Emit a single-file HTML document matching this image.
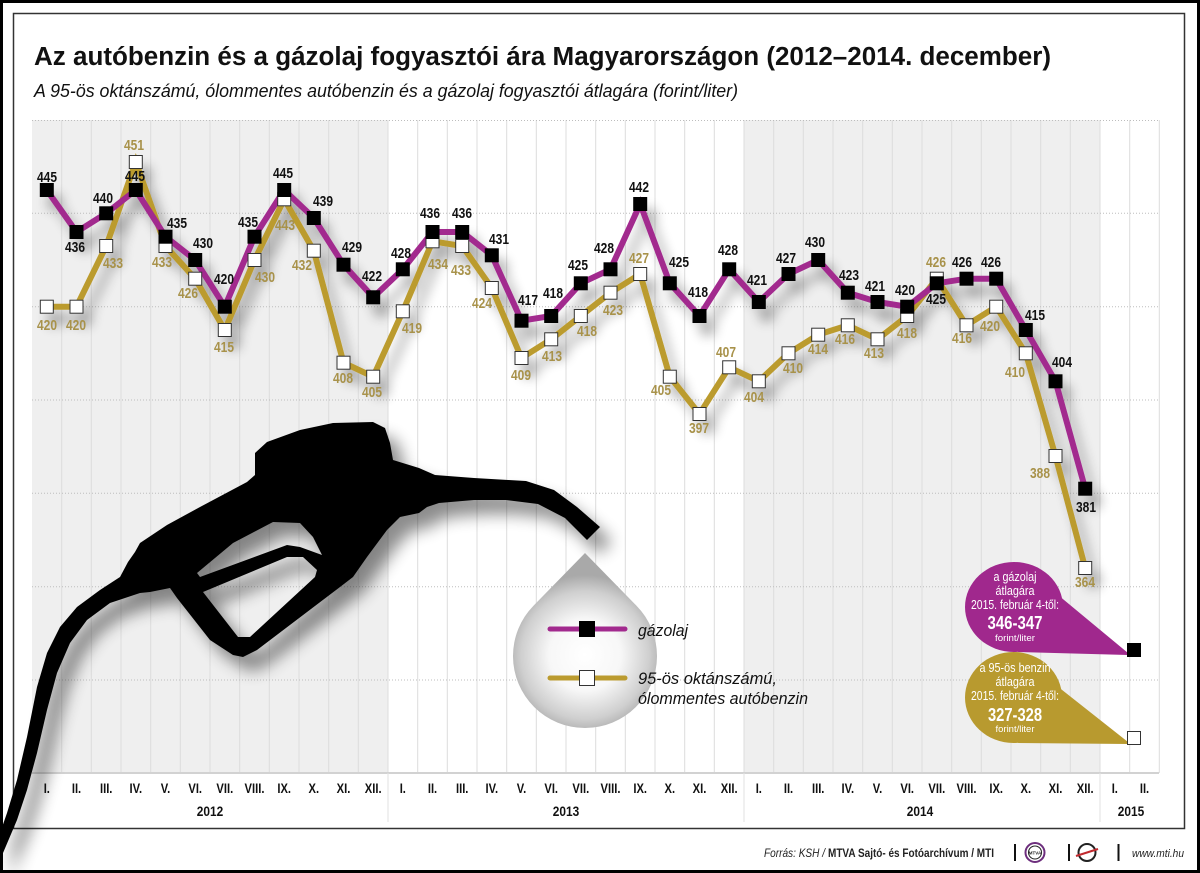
<!DOCTYPE html>
<html><head><meta charset="utf-8"><style>
html,body{margin:0;padding:0;background:#fff}
body{width:1200px;height:873px;overflow:hidden}
svg{display:block}
</style></head><body>
<svg width="1200" height="873" viewBox="0 0 1200 873" xmlns="http://www.w3.org/2000/svg" font-family="'Liberation Sans', sans-serif">
<defs>
<filter id="sh" x="-10%" y="-20%" width="130%" height="160%">
<feGaussianBlur in="SourceAlpha" stdDeviation="6"/>
<feOffset dx="8" dy="12"/>
<feComponentTransfer><feFuncA type="linear" slope="0.33"/></feComponentTransfer>
<feMerge><feMergeNode/><feMergeNode in="SourceGraphic"/></feMerge>
</filter>
<filter id="sh2" x="-20%" y="-20%" width="150%" height="150%">
<feGaussianBlur in="SourceAlpha" stdDeviation="8"/>
<feOffset dx="12" dy="14"/>
<feComponentTransfer><feFuncA type="linear" slope="0.45"/></feComponentTransfer>
<feMerge><feMergeNode/><feMergeNode in="SourceGraphic"/></feMerge>
</filter>
<radialGradient id="dropg" cx="585" cy="655" r="80" gradientUnits="userSpaceOnUse">
<stop offset="0" stop-color="#ffffff"/>
<stop offset="0.45" stop-color="#f7f7f7"/>
<stop offset="0.8" stop-color="#cfcfcf"/>
<stop offset="1" stop-color="#a9a9a9"/>
</radialGradient>
</defs>
<rect x="0" y="0" width="1200" height="873" fill="#fff"/>
<!-- chart background -->
<rect x="32" y="120" width="356" height="653" fill="#efefef"/>
<rect x="744" y="120" width="356" height="653" fill="#efefef"/>
<path stroke="#dcdcdc" stroke-width="1" fill="none" d="M61.7,120V773M91.3,120V773M121,120V773M150.7,120V773M180.3,120V773M210,120V773M239.7,120V773M269.3,120V773M299,120V773M328.7,120V773M358.3,120V773M388,120V773M417.7,120V773M447.3,120V773M477,120V773M506.7,120V773M536.3,120V773M566,120V773M595.7,120V773M625.3,120V773M655,120V773M684.7,120V773M714.3,120V773M744,120V773M773.7,120V773M803.3,120V773M833,120V773M862.7,120V773M892.3,120V773M922,120V773M951.7,120V773M981.3,120V773M1011,120V773M1040.7,120V773M1070.3,120V773M1100,120V773M1129.7,120V773M1159.3,120V773"/>
<path stroke="#bdbdbd" stroke-width="1" stroke-dasharray="1 2" fill="none" d="M32,120.5H1159M32,213.3H1159M32,306.7H1159M32,400H1159M32,493.3H1159M32,586.7H1159M32,680H1159"/>
<path stroke="#d2d2d2" stroke-width="2" d="M32,773H1159"/>
<path stroke="#e2e2e2" stroke-width="1" d="M388,773V822M744,773V822M1100,773V822"/>

<!-- frames -->
<rect x="13.5" y="13.5" width="1171" height="815" fill="none" stroke="#333" stroke-width="1.5"/>
<rect x="1.5" y="1.5" width="1197" height="870" fill="none" stroke="#000" stroke-width="3"/>

<!-- title -->
<text x="34" y="65" font-size="25.5" font-weight="bold" fill="#111" textLength="1017" lengthAdjust="spacingAndGlyphs">Az autóbenzin és a gázolaj fogyasztói ára Magyarországon (2012–2014. december)</text>
<text x="34" y="97" font-size="18.3" font-style="italic" fill="#111" textLength="704" lengthAdjust="spacingAndGlyphs">A 95-ös oktánszámú, ólommentes autóbenzin és a gázolaj fogyasztói átlagára (forint/liter)</text>

<!-- nozzle -->
<g filter="url(#sh2)">
<path fill="#000" fill-rule="evenodd" d="M0,873 L0,833 L7,813 L17,780 L27,737 L37,687 L47,653 L60,627 L77,607 L100,590 L120,577 L128,562 L135,552 L140,543 L167,525 L200,507 L247,482 L255,475 L255,453 L267,442 L300,430 L333,423 L373,422 L385,428 L390,443 L393,460 L419,468 L435,475 L474,478 L526,481 L554,490 L577,507 L600,527 L587,540 L565,518 L538,504 L506,500 L474,500 L439,503 L427,507 L419,513 L400,517 L387,530 L367,557 L353,577 L340,587 L257,650 L243,657 L233,655 L210,640 L177,598 L170,588 L150,592 L140,593 L110,603 L87,620 L70,643 L57,673 L47,710 L37,753 L27,790 L17,820 L3,853 L0,873 Z M197,573 L233,543 L273,522 L300,523 L313,537 L322,555 L300,547 L287,545 L200,577 Z M203,592 L287,557 L303,557 L317,570 L315,577 L250,637 L238,637 Z"/>
</g>

<!-- legend drop -->
<path d="M585,553 L636.4,605.6 A72,72 0 1 1 533.6,605.6 Z" fill="url(#dropg)"/>
<path d="M550,629H625" stroke="#a22a8e" stroke-width="5" stroke-linecap="round"/>
<rect x="579" y="621" width="16" height="16" fill="#000"/>
<path d="M550,678H625" stroke="#bb9b2f" stroke-width="5" stroke-linecap="round"/>
<rect x="579.5" y="670.5" width="15" height="15" fill="#fff" stroke="#333" stroke-width="1"/>
<text x="638" y="636" font-size="17" font-style="italic" fill="#111" textLength="50" lengthAdjust="spacingAndGlyphs">gázolaj</text>
<text x="638" y="684" font-size="17" font-style="italic" fill="#111" textLength="139" lengthAdjust="spacingAndGlyphs">95-ös oktánszámú,</text>
<text x="638" y="704" font-size="17" font-style="italic" fill="#111" textLength="170" lengthAdjust="spacingAndGlyphs">ólommentes autóbenzin</text>

<!-- series -->
<g filter="url(#sh)">
<polyline fill="none" stroke="#bb9b2f" stroke-width="6" stroke-linejoin="miter" points="46.8,306.7 76.5,306.7 106.2,246 135.8,162 165.5,246 195.2,278.7 224.8,330 254.5,260 284.2,199.3 313.8,250.7 343.5,362.7 373.2,376.7 402.8,311.3 432.5,241.3 462.2,246 491.8,288 521.5,358 551.2,339.3 580.8,316 610.5,292.7 640.2,274 669.8,376.7 699.5,414 729.2,367.3 758.8,381.3 788.5,353.3 818.2,334.7 847.8,325.3 877.5,339.3 907.2,316 936.8,278.7 966.5,325.3 996.2,306.7 1025.8,353.3 1055.5,456 1085.2,568"/>
<polyline fill="none" stroke="#a22a8e" stroke-width="6" stroke-linejoin="miter" points="46.8,190 76.5,232 106.2,213.3 135.8,190 165.5,236.7 195.2,260 224.8,306.7 254.5,236.7 284.2,190 313.8,218 343.5,264.7 373.2,297.3 402.8,269.3 432.5,232 462.2,232 491.8,255.3 521.5,320.7 551.2,316 580.8,283.3 610.5,269.3 640.2,204 669.8,283.3 699.5,316 729.2,269.3 758.8,302 788.5,274 818.2,260 847.8,292.7 877.5,302 907.2,306.7 936.8,283.3 966.5,278.7 996.2,278.7 1025.8,330 1055.5,381.3 1085.2,488.7"/>
<g fill="#fff" stroke="#333" stroke-width="1">
<rect x="40.3" y="300.2" width="13" height="13"/><rect x="70" y="300.2" width="13" height="13"/><rect x="99.7" y="239.5" width="13" height="13"/><rect x="129.3" y="155.5" width="13" height="13"/><rect x="159" y="239.5" width="13" height="13"/><rect x="188.7" y="272.2" width="13" height="13"/><rect x="218.3" y="323.5" width="13" height="13"/><rect x="248" y="253.5" width="13" height="13"/><rect x="277.7" y="192.8" width="13" height="13"/><rect x="307.3" y="244.2" width="13" height="13"/><rect x="337" y="356.2" width="13" height="13"/><rect x="366.7" y="370.2" width="13" height="13"/>
<rect x="396.3" y="304.8" width="13" height="13"/><rect x="426" y="234.8" width="13" height="13"/><rect x="455.7" y="239.5" width="13" height="13"/><rect x="485.3" y="281.5" width="13" height="13"/><rect x="515" y="351.5" width="13" height="13"/><rect x="544.7" y="332.8" width="13" height="13"/><rect x="574.3" y="309.5" width="13" height="13"/><rect x="604" y="286.2" width="13" height="13"/><rect x="633.7" y="267.5" width="13" height="13"/><rect x="663.3" y="370.2" width="13" height="13"/><rect x="693" y="407.5" width="13" height="13"/><rect x="722.7" y="360.8" width="13" height="13"/>
<rect x="752.3" y="374.8" width="13" height="13"/><rect x="782" y="346.8" width="13" height="13"/><rect x="811.7" y="328.2" width="13" height="13"/><rect x="841.3" y="318.8" width="13" height="13"/><rect x="871" y="332.8" width="13" height="13"/><rect x="900.7" y="309.5" width="13" height="13"/><rect x="930.3" y="272.2" width="13" height="13"/><rect x="960" y="318.8" width="13" height="13"/><rect x="989.7" y="300.2" width="13" height="13"/><rect x="1019.3" y="346.8" width="13" height="13"/><rect x="1049" y="449.5" width="13" height="13"/><rect x="1078.7" y="561.5" width="13" height="13"/>
</g>
<g fill="#000">
<rect x="39.8" y="183" width="14" height="14"/><rect x="69.5" y="225" width="14" height="14"/><rect x="99.2" y="206.3" width="14" height="14"/><rect x="128.8" y="183" width="14" height="14"/><rect x="158.5" y="229.7" width="14" height="14"/><rect x="188.2" y="253" width="14" height="14"/><rect x="217.8" y="299.7" width="14" height="14"/><rect x="247.5" y="229.7" width="14" height="14"/><rect x="277.2" y="183" width="14" height="14"/><rect x="306.8" y="211" width="14" height="14"/><rect x="336.5" y="257.7" width="14" height="14"/><rect x="366.2" y="290.3" width="14" height="14"/>
<rect x="395.8" y="262.3" width="14" height="14"/><rect x="425.5" y="225" width="14" height="14"/><rect x="455.2" y="225" width="14" height="14"/><rect x="484.8" y="248.3" width="14" height="14"/><rect x="514.5" y="313.7" width="14" height="14"/><rect x="544.2" y="309" width="14" height="14"/><rect x="573.8" y="276.3" width="14" height="14"/><rect x="603.5" y="262.3" width="14" height="14"/><rect x="633.2" y="197" width="14" height="14"/><rect x="662.8" y="276.3" width="14" height="14"/><rect x="692.5" y="309" width="14" height="14"/><rect x="722.2" y="262.3" width="14" height="14"/>
<rect x="751.8" y="295" width="14" height="14"/><rect x="781.5" y="267" width="14" height="14"/><rect x="811.2" y="253" width="14" height="14"/><rect x="840.8" y="285.7" width="14" height="14"/><rect x="870.5" y="295" width="14" height="14"/><rect x="900.2" y="299.7" width="14" height="14"/><rect x="929.8" y="276.3" width="14" height="14"/><rect x="959.5" y="271.7" width="14" height="14"/><rect x="989.2" y="271.7" width="14" height="14"/><rect x="1018.8" y="323" width="14" height="14"/><rect x="1048.5" y="374.3" width="14" height="14"/><rect x="1078.2" y="481.7" width="14" height="14"/>
</g>
</g>

<!-- benzin labels -->
<g font-size="15" font-weight="bold" fill="#a8924a" text-anchor="middle">
<text x="47" y="330" textLength="20" lengthAdjust="spacingAndGlyphs">420</text>
<text x="76" y="330" textLength="20" lengthAdjust="spacingAndGlyphs">420</text>
<text x="113" y="268" textLength="20" lengthAdjust="spacingAndGlyphs">433</text>
<text x="134" y="150" textLength="20" lengthAdjust="spacingAndGlyphs">451</text>
<text x="162" y="267" textLength="20" lengthAdjust="spacingAndGlyphs">433</text>
<text x="188" y="298" textLength="20" lengthAdjust="spacingAndGlyphs">426</text>
<text x="224" y="352" textLength="20" lengthAdjust="spacingAndGlyphs">415</text>
<text x="265" y="282" textLength="20" lengthAdjust="spacingAndGlyphs">430</text>
<text x="285" y="230" textLength="20" lengthAdjust="spacingAndGlyphs">443</text>
<text x="302" y="270" textLength="20" lengthAdjust="spacingAndGlyphs">432</text>
<text x="343" y="383" textLength="20" lengthAdjust="spacingAndGlyphs">408</text>
<text x="372" y="397" textLength="20" lengthAdjust="spacingAndGlyphs">405</text>
<text x="412" y="333" textLength="20" lengthAdjust="spacingAndGlyphs">419</text>
<text x="438" y="269" textLength="20" lengthAdjust="spacingAndGlyphs">434</text>
<text x="461" y="275" textLength="20" lengthAdjust="spacingAndGlyphs">433</text>
<text x="482" y="308" textLength="20" lengthAdjust="spacingAndGlyphs">424</text>
<text x="521" y="380" textLength="20" lengthAdjust="spacingAndGlyphs">409</text>
<text x="552" y="361" textLength="20" lengthAdjust="spacingAndGlyphs">413</text>
<text x="587" y="336" textLength="20" lengthAdjust="spacingAndGlyphs">418</text>
<text x="613" y="315" textLength="20" lengthAdjust="spacingAndGlyphs">423</text>
<text x="639" y="263" textLength="20" lengthAdjust="spacingAndGlyphs">427</text>
<text x="661" y="395" textLength="20" lengthAdjust="spacingAndGlyphs">405</text>
<text x="699" y="433" textLength="20" lengthAdjust="spacingAndGlyphs">397</text>
<text x="726" y="357" textLength="20" lengthAdjust="spacingAndGlyphs">407</text>
<text x="754" y="402" textLength="20" lengthAdjust="spacingAndGlyphs">404</text>
<text x="793" y="373" textLength="20" lengthAdjust="spacingAndGlyphs">410</text>
<text x="818" y="354" textLength="20" lengthAdjust="spacingAndGlyphs">414</text>
<text x="845" y="344" textLength="20" lengthAdjust="spacingAndGlyphs">416</text>
<text x="874" y="358" textLength="20" lengthAdjust="spacingAndGlyphs">413</text>
<text x="907" y="338" textLength="20" lengthAdjust="spacingAndGlyphs">418</text>
<text x="936" y="267" textLength="20" lengthAdjust="spacingAndGlyphs">426</text>
<text x="962" y="343" textLength="20" lengthAdjust="spacingAndGlyphs">416</text>
<text x="990" y="331" textLength="20" lengthAdjust="spacingAndGlyphs">420</text>
<text x="1015" y="377" textLength="20" lengthAdjust="spacingAndGlyphs">410</text>
<text x="1040" y="478" textLength="20" lengthAdjust="spacingAndGlyphs">388</text>
<text x="1085" y="587" textLength="20" lengthAdjust="spacingAndGlyphs">364</text>
</g>
<!-- diesel labels -->
<g font-size="15" font-weight="bold" fill="#111" text-anchor="middle">
<text x="47" y="182" textLength="20" lengthAdjust="spacingAndGlyphs">445</text>
<text x="75" y="252" textLength="20" lengthAdjust="spacingAndGlyphs">436</text>
<text x="103" y="203" textLength="20" lengthAdjust="spacingAndGlyphs">440</text>
<text x="135" y="181" textLength="20" lengthAdjust="spacingAndGlyphs">445</text>
<text x="177" y="228" textLength="20" lengthAdjust="spacingAndGlyphs">435</text>
<text x="203" y="248" textLength="20" lengthAdjust="spacingAndGlyphs">430</text>
<text x="224" y="284" textLength="20" lengthAdjust="spacingAndGlyphs">420</text>
<text x="248" y="227" textLength="20" lengthAdjust="spacingAndGlyphs">435</text>
<text x="283" y="178" textLength="20" lengthAdjust="spacingAndGlyphs">445</text>
<text x="323" y="206" textLength="20" lengthAdjust="spacingAndGlyphs">439</text>
<text x="352" y="252" textLength="20" lengthAdjust="spacingAndGlyphs">429</text>
<text x="372" y="281" textLength="20" lengthAdjust="spacingAndGlyphs">422</text>
<text x="401" y="258" textLength="20" lengthAdjust="spacingAndGlyphs">428</text>
<text x="430" y="218" textLength="20" lengthAdjust="spacingAndGlyphs">436</text>
<text x="462" y="218" textLength="20" lengthAdjust="spacingAndGlyphs">436</text>
<text x="499" y="244" textLength="20" lengthAdjust="spacingAndGlyphs">431</text>
<text x="528" y="305" textLength="20" lengthAdjust="spacingAndGlyphs">417</text>
<text x="553" y="298" textLength="20" lengthAdjust="spacingAndGlyphs">418</text>
<text x="578" y="270" textLength="20" lengthAdjust="spacingAndGlyphs">425</text>
<text x="604" y="253" textLength="20" lengthAdjust="spacingAndGlyphs">428</text>
<text x="639" y="192" textLength="20" lengthAdjust="spacingAndGlyphs">442</text>
<text x="679" y="267" textLength="20" lengthAdjust="spacingAndGlyphs">425</text>
<text x="698" y="297" textLength="20" lengthAdjust="spacingAndGlyphs">418</text>
<text x="728" y="255" textLength="20" lengthAdjust="spacingAndGlyphs">428</text>
<text x="757" y="285" textLength="20" lengthAdjust="spacingAndGlyphs">421</text>
<text x="786" y="263" textLength="20" lengthAdjust="spacingAndGlyphs">427</text>
<text x="815" y="247" textLength="20" lengthAdjust="spacingAndGlyphs">430</text>
<text x="849" y="280" textLength="20" lengthAdjust="spacingAndGlyphs">423</text>
<text x="875" y="291" textLength="20" lengthAdjust="spacingAndGlyphs">421</text>
<text x="905" y="295" textLength="20" lengthAdjust="spacingAndGlyphs">420</text>
<text x="936" y="304" textLength="20" lengthAdjust="spacingAndGlyphs">425</text>
<text x="962" y="267" textLength="20" lengthAdjust="spacingAndGlyphs">426</text>
<text x="991" y="267" textLength="20" lengthAdjust="spacingAndGlyphs">426</text>
<text x="1035" y="320" textLength="20" lengthAdjust="spacingAndGlyphs">415</text>
<text x="1062" y="367" textLength="20" lengthAdjust="spacingAndGlyphs">404</text>
<text x="1086" y="512" textLength="20" lengthAdjust="spacingAndGlyphs">381</text>
</g>

<!-- callouts -->
<ellipse cx="1014" cy="607" rx="49" ry="45" fill="#a0288d"/>
<polygon points="1052,590 1128,653 1128,655 1018,652" fill="#a0288d"/>
<ellipse cx="1013.5" cy="697.5" rx="48.5" ry="45.5" fill="#b89a2f"/>
<polygon points="1052,682 1128,742 1128,744 1018,743" fill="#b89a2f"/>
<rect x="1127" y="643" width="14" height="14" fill="#000"/>
<rect x="1127.5" y="731.5" width="13" height="13" fill="#fff" stroke="#333" stroke-width="1"/>
<g fill="#fff" text-anchor="middle">
<text x="1015" y="581" font-size="12.5" textLength="43" lengthAdjust="spacingAndGlyphs">a gázolaj</text>
<text x="1015" y="595" font-size="12.5" textLength="39" lengthAdjust="spacingAndGlyphs">átlagára</text>
<text x="1015" y="609" font-size="12.5" textLength="88" lengthAdjust="spacingAndGlyphs">2015. február 4-től:</text>
<text x="1015" y="629" font-size="18" font-weight="bold" textLength="55" lengthAdjust="spacingAndGlyphs">346-347</text>
<text x="1015" y="641" font-size="9.5" textLength="40" lengthAdjust="spacingAndGlyphs">forint/liter</text>
<text x="1015" y="672" font-size="12.5" textLength="71" lengthAdjust="spacingAndGlyphs">a 95-ös benzin</text>
<text x="1015" y="686" font-size="12.5" textLength="39" lengthAdjust="spacingAndGlyphs">átlagára</text>
<text x="1015" y="700" font-size="12.5" textLength="88" lengthAdjust="spacingAndGlyphs">2015. február 4-től:</text>
<text x="1015" y="721" font-size="18" font-weight="bold" textLength="54" lengthAdjust="spacingAndGlyphs">327-328</text>
<text x="1015" y="732" font-size="9.5" textLength="39" lengthAdjust="spacingAndGlyphs">forint/liter</text>
</g>

<!-- month labels -->
<g font-size="14" font-weight="bold" fill="#111" text-anchor="middle">
<text transform="translate(46.8,793) scale(0.8,1)">I.</text>
<text transform="translate(76.5,793) scale(0.8,1)">II.</text>
<text transform="translate(106.2,793) scale(0.8,1)">III.</text>
<text transform="translate(135.8,793) scale(0.8,1)">IV.</text>
<text transform="translate(165.5,793) scale(0.8,1)">V.</text>
<text transform="translate(195.2,793) scale(0.8,1)">VI.</text>
<text transform="translate(224.8,793) scale(0.8,1)">VII.</text>
<text transform="translate(254.5,793) scale(0.8,1)">VIII.</text>
<text transform="translate(284.2,793) scale(0.8,1)">IX.</text>
<text transform="translate(313.8,793) scale(0.8,1)">X.</text>
<text transform="translate(343.5,793) scale(0.8,1)">XI.</text>
<text transform="translate(373.2,793) scale(0.8,1)">XII.</text>
<text transform="translate(402.8,793) scale(0.8,1)">I.</text>
<text transform="translate(432.5,793) scale(0.8,1)">II.</text>
<text transform="translate(462.2,793) scale(0.8,1)">III.</text>
<text transform="translate(491.8,793) scale(0.8,1)">IV.</text>
<text transform="translate(521.5,793) scale(0.8,1)">V.</text>
<text transform="translate(551.2,793) scale(0.8,1)">VI.</text>
<text transform="translate(580.8,793) scale(0.8,1)">VII.</text>
<text transform="translate(610.5,793) scale(0.8,1)">VIII.</text>
<text transform="translate(640.2,793) scale(0.8,1)">IX.</text>
<text transform="translate(669.8,793) scale(0.8,1)">X.</text>
<text transform="translate(699.5,793) scale(0.8,1)">XI.</text>
<text transform="translate(729.2,793) scale(0.8,1)">XII.</text>
<text transform="translate(758.8,793) scale(0.8,1)">I.</text>
<text transform="translate(788.5,793) scale(0.8,1)">II.</text>
<text transform="translate(818.2,793) scale(0.8,1)">III.</text>
<text transform="translate(847.8,793) scale(0.8,1)">IV.</text>
<text transform="translate(877.5,793) scale(0.8,1)">V.</text>
<text transform="translate(907.2,793) scale(0.8,1)">VI.</text>
<text transform="translate(936.8,793) scale(0.8,1)">VII.</text>
<text transform="translate(966.5,793) scale(0.8,1)">VIII.</text>
<text transform="translate(996.2,793) scale(0.8,1)">IX.</text>
<text transform="translate(1025.8,793) scale(0.8,1)">X.</text>
<text transform="translate(1055.5,793) scale(0.8,1)">XI.</text>
<text transform="translate(1085.2,793) scale(0.8,1)">XII.</text>
<text transform="translate(1114.8,793) scale(0.8,1)">I.</text>
<text transform="translate(1144.5,793) scale(0.8,1)">II.</text>
<text transform="translate(210,816) scale(0.85,1)">2012</text>
<text transform="translate(566,816) scale(0.85,1)">2013</text>
<text transform="translate(920,816) scale(0.85,1)">2014</text>
<text transform="translate(1131,816) scale(0.85,1)">2015</text>
</g>

<!-- footer -->
<text x="764" y="857" font-size="12" font-style="italic" fill="#222" textLength="61" lengthAdjust="spacingAndGlyphs">Forrás: KSH /</text>
<text x="828" y="857" font-size="12" font-weight="bold" fill="#222" textLength="166" lengthAdjust="spacingAndGlyphs">MTVA Sajtó- és Fotóarchívum / MTI</text>
<path d="M1015,844V861M1069,844V861M1118.5,844V861" stroke="#111" stroke-width="2"/>
<circle cx="1035" cy="852.5" r="9.5" fill="#fff" stroke="#6d2e7d" stroke-width="2"/>
<circle cx="1035" cy="852.5" r="6.5" fill="#fff" stroke="#222" stroke-width="1"/>
<text x="1035" y="854.5" font-size="4.5" font-weight="bold" fill="#222" text-anchor="middle">MTVA</text>
<circle cx="1087" cy="852.5" r="8.5" fill="none" stroke="#222" stroke-width="2"/>
<path d="M1076,856L1098,849" stroke="#c0282d" stroke-width="2"/>
<text x="1132" y="857" font-size="11" font-style="italic" fill="#222" textLength="52" lengthAdjust="spacingAndGlyphs">www.mti.hu</text>
</svg>
</body></html>
